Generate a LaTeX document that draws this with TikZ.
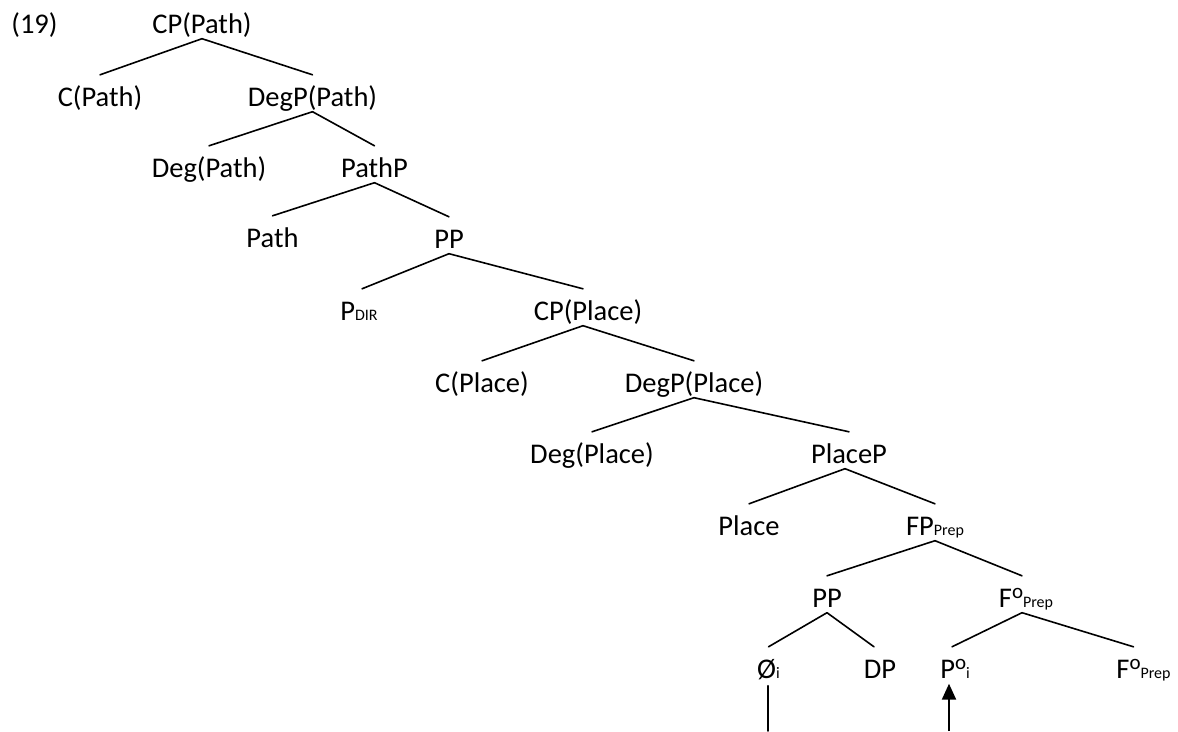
\documentclass[tikz,border=0pt]{standalone}
\usepackage{fontspec}
\setmainfont{Carlito}
\usetikzlibrary{arrows.meta}
\newcommand\subtxt[1]{{\fontsize{16}{16}\selectfont #1}}
\newcommand\degsup{\raisebox{8.5pt}{\fontsize{21}{21}\selectfont o}}
\begin{document}
\begin{tikzpicture}[x=1pt,y=-1pt,
  lbl/.style={anchor=base, inner sep=0pt, text height=31pt, text depth=5.5pt, font=\fontsize{28.5}{34}\selectfont},
  edge/.style={line width=1.6pt, line cap=round},
  arr/.style={line width=2.2pt, -{Triangle[length=16pt,width=14pt]}}]
\useasboundingbox (0,0) rectangle (1178,731);
% nodes
\node[lbl] (n19) at (34.5,33) {(19)};
\node[lbl] (cppath) at (202,33) {CP(Path)};
\node[lbl] (cpath) at (100,106) {C(Path)};
\node[lbl] (degppath) at (312.5,106) {DegP(Path)};
\node[lbl] (degpath) at (209,177) {Deg(Path)};
\node[lbl] (pathp) at (374.5,177) {PathP};
\node[lbl] (path) at (272.5,247) {Path};
\node[lbl] (pp1) at (449,248) {PP};
\node[lbl] (pdir) at (359,320) {P\subtxt{DIR}};
\node[lbl] (cpplace) at (588,320) {CP(Place)};
\node[lbl] (cplace) at (482,392) {C(Place)};
\node[lbl] (degpplace) at (694,392) {DegP(Place)};
\node[lbl] (degplace) at (592,463) {Deg(Place)};
\node[lbl] (placep) at (849,463) {PlaceP};
\node[lbl] (place) at (749,535) {Place};
\node[lbl] (fpprep) at (935,535) {FP\subtxt{Prep}};
\node[lbl] (pp2) at (827,607) {PP};
\node[lbl] (fprep1) at (1026,607) {F\degsup\subtxt{Prep}};
\node[lbl] (zero) at (768.5,678) {Ø\subtxt{i}};
\node[lbl] (dp) at (880,678) {DP};
\node[lbl] (poi) at (955,678) {P\degsup\subtxt{i}};
\node[lbl] (fprep2) at (1143.5,678) {F\degsup\subtxt{Prep}};
\coordinate (zerofoot) at (768,731);
\coordinate (arrfoot) at (949,731);
% edges
\draw[edge] (cppath.south) -- (cpath.north);
\draw[edge] (cppath.south) -- (degppath.north);
\draw[edge] (degppath.south) -- (degpath.north);
\draw[edge] (degppath.south) -- (pathp.north);
\draw[edge] (pathp.south) -- (path.north);
\draw[edge] (pathp.south) -- (pp1.north);
\draw[edge] (pp1.south) -- ([xshift=3pt]pdir.north);
\draw[edge] (pp1.south) -- ([xshift=-5pt]cpplace.north);
\draw[edge] ([xshift=-5pt]cpplace.south) -- (cplace.north);
\draw[edge] ([xshift=-5pt]cpplace.south) -- (degpplace.north);
\draw[edge] (degpplace.south) -- (degplace.north);
\draw[edge] (degpplace.south) -- (placep.north);
\draw[edge] ([xshift=-4pt]placep.south) -- (place.north);
\draw[edge] ([xshift=-4pt]placep.south) -- (fpprep.north);
\draw[edge] (fpprep.south) -- (pp2.north);
\draw[edge] (fpprep.south) -- ([xshift=-4pt]fprep1.north);
\draw[edge] (pp2.south) -- (zero.north);
\draw[edge] (pp2.south) -- ([xshift=-6pt]dp.north);
\draw[edge] ([xshift=-4pt]fprep1.south) -- ([xshift=-3pt]poi.north);
\draw[edge] ([xshift=-4pt]fprep1.south) -- ([xshift=-10pt]fprep2.north);
\draw[edge] ([yshift=-2pt]zero.south -| zerofoot) -- (zerofoot);
\draw[arr] (arrfoot) -- (arrfoot |- poi.south);
\end{tikzpicture}
\end{document}
